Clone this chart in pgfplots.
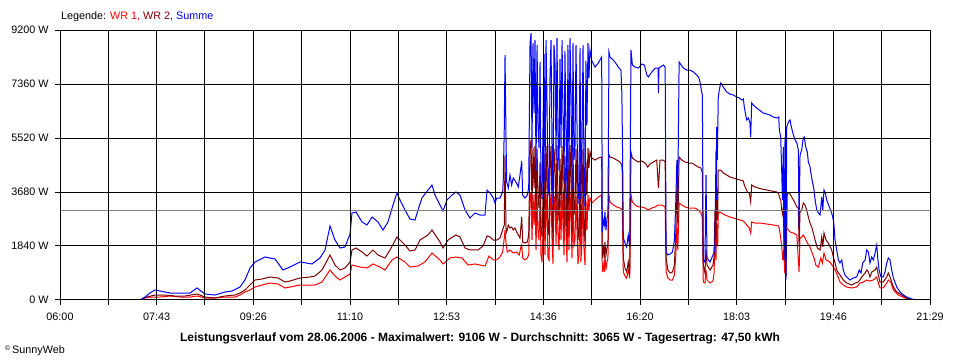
\documentclass[border=0pt]{standalone}
\usepackage{fontspec}
\setmainfont{Liberation Sans}
\usepackage{pgfplots}
\pgfplotsset{compat=1.18}
\definecolor{wrone}{RGB}{255,0,0}
\definecolor{wrtwo}{RGB}{128,0,0}
\definecolor{summe}{RGB}{0,0,255}
\definecolor{avg}{RGB}{128,128,128}
\begin{document}
\begin{tikzpicture}
\useasboundingbox (0,0) rectangle (960bp,360bp);
\fill[white] (0,0) rectangle (960bp,360bp);
\begin{axis}[
  at={(60bp,60bp)}, anchor=south west,
  width=870bp, height=270bp, scale only axis,
  xmin=0, xmax=929, ymin=0, ymax=9200,
  xtick={0,51.61,103.22,154.83,206.44,258.06,309.67,361.28,412.89,464.5,516.11,567.72,619.33,670.94,722.56,774.17,825.78,877.39,929},
  xticklabels={06:00,,07:43,,09:26,,11:10,,12:53,,14:36,,16:20,,18:03,,19:46,,21:29},
  ytick={0,1840,3680,5520,7360,9200},
  yticklabels={0 W,1840 W,3680 W,5520 W,7360 W,9200 W},
  grid=major, major grid style={black, line width=1bp},
  axis line style={black, line width=1bp},
  tick align=outside, major tick length=5bp, tick style={black, line width=1bp},
  xtick pos=bottom, ytick pos=left,
  ticklabel style={font=\fontsize{10.8bp}{12bp}\selectfont},
  xticklabel style={yshift=-4bp},
  yticklabel style={xshift=-3bp},
  axis on top,
]
\addplot[wrone, line width=1bp] table {
85.4 0
90.8 68
96.1 102
106.8 102
117.5 136
128.1 102
138.8 102
146.3 136
154.8 68
165.5 68
176.2 102
186.9 102
192.2 170
197.5 273
202.9 341
208.2 443
215.7 511
224.2 579
232.8 545
240.3 409
245.6 443
256.3 511
272.3 511
279.8 613
288.3 1022
293.6 818
299.0 681
309.7 886
311.8 1192
320.3 1124
327.8 1090
334.2 1227
341.7 1124
347.0 1022
354.5 1363
359.8 1465
368.4 1295
373.7 1124
382.3 1158
389.7 1295
397.2 1601
405.8 1363
409.0 1227
416.4 1431
422.8 1465
429.3 1431
435.7 1192
443.1 1227
453.8 1158
458.1 1499
459.2 1465
462.7 1363
466.3 1363
469.8 1465
472.7 1635
474.4 2112
475.2 2385
476.2 1976
477.6 1635
480.5 1704
484.0 1601
487.7 1635
490.4 1533
491.9 1772
493.0 1874
494.1 1431
496.5 1363
499.0 1431
500.5 1533
501.9 3577
503.0 3645
504.0 2044
505.1 3577
506.2 2555
507.2 3611
508.3 1704
509.4 3543
510.4 2385
511.5 2044
512.6 3407
513.6 1533
514.7 1295
515.8 2385
516.9 3407
517.9 1533
519.0 3611
520.1 2658
521.1 1431
522.2 1363
523.2 3066
524.3 3611
525.4 2044
526.4 1227
527.5 3543
528.6 3407
529.7 1874
530.7 3645
531.8 2215
532.9 1704
533.9 3407
535.0 2044
536.1 3611
537.1 2555
538.2 1533
539.2 3577
540.3 2317
541.4 1295
542.4 3543
543.5 1704
544.6 3645
545.6 2896
546.7 1431
547.8 3577
548.8 1874
549.9 2044
551.0 3543
552.0 2453
553.1 1227
554.2 1533
555.3 3509
556.3 1295
557.4 2112
558.5 3543
559.5 1772
560.6 1192
561.6 3407
562.7 2385
563.8 3577
564.8 3066
565.9 3475
567.0 3407
568.0 3305
571.3 3407
574.8 3509
578.4 3577
579.1 954
580.1 1192
581.2 954
581.9 1533
583.0 1022
584.1 1295
585.1 1431
586.2 3577
587.3 3339
590.8 3237
594.4 3169
598.0 3134
600.4 3066
601.5 954
603.3 818
605.1 750
606.8 1022
608.3 750
609.7 3577
611.2 3339
614.0 3237
617.6 3169
621.2 3169
624.7 3134
628.3 3066
631.9 3134
635.5 3169
639.0 3237
642.6 3237
646.2 3169
647.2 954
649.1 750
651.5 681
654.0 681
656.1 852
657.6 1533
658.7 2555
659.7 1704
661.1 3305
664.0 3237
667.5 3169
671.1 3134
678.1 3134
681.6 3066
684.5 2964
685.9 2794
686.9 613
688.7 579
689.8 1022
690.9 681
694.1 579
697.3 647
698.4 920
699.4 2044
700.5 1363
701.2 2623
702.3 1874
702.9 2964
704.8 2998
710.1 2896
715.5 2828
722.6 2760
726.1 2726
729.7 2692
731.5 2623
733.3 2555
736.1 2453
737.5 2283
738.6 2658
742.1 2623
747.5 2623
754.6 2589
761.7 2555
767.5 2521
768.9 2283
770.7 1806
771.8 1363
772.8 1704
773.9 920
775.0 2385
776.0 2453
779.6 2317
783.1 2283
786.8 2215
789.2 954
790.2 2112
792.0 2146
793.7 2215
795.5 2112
798.0 1942
800.9 1806
802.7 1635
805.2 1431
807.0 1192
809.8 1124
812.4 1431
814.1 1261
815.8 1601
818.0 1363
822.2 1295
825.8 1124
827.6 1022
830.0 852
832.9 613
836.4 511
840.1 443
845.4 409
850.7 443
854.3 579
857.8 613
861.4 681
864.9 647
868.5 681
872.1 784
873.8 579
875.6 409
879.1 409
882.8 579
884.5 681
887.1 613
889.9 341
895.2 170
902.3 68
909.5 0
};
\addplot[wrtwo, line width=1bp] table {
85.4 0
92.9 102
101.4 170
112.1 170
122.8 136
133.5 136
146.3 204
154.8 102
165.5 68
176.2 136
186.9 170
192.2 238
197.5 341
202.9 511
208.2 681
215.7 715
224.2 784
232.8 750
240.3 613
245.6 647
256.3 750
267.0 784
272.3 818
279.8 1022
288.3 1533
293.6 1192
299.0 1022
304.3 1090
309.7 1295
311.8 1704
316.1 1772
322.5 1635
327.8 1499
334.2 1704
339.6 1533
347.0 1431
352.4 1704
359.8 2146
368.4 1874
373.7 1669
379.1 1704
384.4 2044
393.0 2215
397.2 2385
405.8 1976
409.0 1772
414.3 2044
422.8 2215
427.1 2146
432.5 1772
437.8 1704
446.3 1704
451.7 1840
456.0 2180
459.2 2146
462.7 2044
466.3 2044
469.8 2112
472.7 2385
474.4 2555
475.2 4940
476.2 2453
477.0 2317
478.7 2555
480.5 2453
482.3 2487
484.0 2385
485.9 2453
487.7 2317
489.4 2215
491.2 2112
493.0 2828
494.1 1976
496.5 1942
499.0 1976
500.5 2215
501.9 5179
503.0 5450
504.0 3134
505.1 5179
506.2 3816
507.2 5247
508.3 2692
509.4 5145
510.4 3577
511.5 3134
512.6 4700
513.6 2453
514.7 2146
515.8 3577
516.9 4974
517.9 2453
519.0 5247
520.1 3952
521.1 2317
522.2 2215
523.2 4497
524.3 5247
525.4 3134
526.4 2044
527.5 5145
528.6 4650
529.7 2896
530.7 5281
531.8 3373
532.9 2692
533.9 4800
535.0 3134
536.1 5247
537.1 3816
538.2 2453
539.2 4900
540.3 3509
541.4 2146
542.4 5145
543.5 2692
544.6 5281
545.6 4293
546.7 2317
547.8 5179
548.8 2896
549.9 3134
551.0 5145
552.0 3680
553.1 2044
554.2 2453
555.3 5076
556.3 2146
557.4 3237
558.5 5145
559.5 2760
560.6 2010
561.6 4750
562.7 3577
563.8 5179
564.8 4497
565.9 5042
567.0 4900
568.0 4838
571.3 4770
574.8 4838
578.4 4872
579.1 1431
580.1 1874
581.2 1431
581.9 1976
583.0 1533
584.1 1772
585.1 1874
586.2 4940
587.3 4872
590.8 4838
594.4 4770
598.0 4702
599.8 4600
600.4 4361
601.5 1431
603.3 1090
605.1 954
606.8 1295
608.3 852
609.7 5042
611.2 4838
614.0 4770
617.6 4702
621.2 4736
624.7 4668
627.6 4531
630.0 4634
633.6 4702
637.2 4770
639.0 3816
640.7 4770
644.2 4770
646.2 4702
647.2 1431
649.1 1022
651.5 920
654.0 954
656.1 1192
657.6 2317
658.7 3918
659.7 2555
661.1 4872
664.0 4770
667.5 4702
671.1 4668
674.7 4668
678.1 4600
681.6 4531
684.5 4497
685.9 4327
686.9 1192
688.7 920
689.8 1704
690.9 1192
694.1 1022
697.3 1192
698.4 1465
699.4 3066
700.5 2044
701.2 3850
702.3 2726
702.9 4429
705.5 4429
708.3 4327
711.9 4259
715.5 4191
719.0 4157
722.6 4122
726.1 4088
729.7 4054
730.7 3918
732.2 3816
733.9 3680
736.1 3645
737.5 3339
738.6 3918
742.1 3850
745.6 3816
749.2 3782
754.6 3748
759.9 3714
765.3 3680
767.5 3611
768.1 3509
769.6 3407
770.7 3066
771.8 2896
772.4 3169
773.5 1465
774.6 3645
775.2 784
776.6 3645
778.7 3645
780.2 3577
783.1 3407
784.9 3305
786.8 3169
788.4 3134
789.2 1806
790.2 2998
792.0 3066
793.7 3305
795.5 3237
797.3 3066
799.1 2828
800.9 2623
802.7 2487
804.5 2283
806.3 2044
808.7 1772
811.6 1704
813.4 2146
814.5 1806
815.8 2283
818.0 2044
820.4 1942
824.0 1704
825.8 1465
827.6 1261
829.4 1022
831.2 920
832.9 852
836.4 681
840.1 579
845.4 511
849.0 579
852.5 613
856.1 784
859.7 920
861.4 1022
863.2 954
864.9 784
866.8 954
870.3 1022
872.1 1124
873.8 852
875.6 613
879.1 613
882.8 784
884.5 920
886.3 784
889.9 443
893.5 273
898.8 170
904.1 68
911.2 0
};
\addplot[summe, line width=1bp] table {
85.4 0
90.8 102
96.1 238
101.4 341
106.8 307
117.5 238
128.1 238
138.8 238
146.3 409
154.8 204
165.5 170
176.2 273
183.7 307
192.2 443
197.5 681
202.9 1090
208.2 1295
218.9 1465
229.6 1397
238.1 1022
245.6 1124
256.3 1295
269.1 1227
277.6 1431
283.0 1704
288.3 2521
293.6 2044
299.0 1772
304.3 1806
309.7 2249
311.8 2964
316.1 2998
322.5 2658
327.8 2555
333.2 2828
339.6 2658
344.9 2385
350.2 2658
355.6 3237
359.8 3645
363.1 3407
368.4 3066
373.7 2760
379.1 2726
382.3 3066
386.5 3475
393.0 3748
397.2 3918
400.4 3577
405.8 3237
409.0 3032
413.2 3407
418.6 3577
422.8 3680
427.1 3577
432.5 3066
437.8 2794
443.1 2964
448.5 2896
453.8 2896
456.0 3748
459.2 3645
462.7 3475
464.5 3305
466.3 3475
469.8 3475
472.7 3680
473.3 4088
474.4 5860
475.2 8347
476.2 5622
477.0 4020
478.7 3816
480.5 4259
482.3 3918
484.0 4157
486.9 4020
489.4 3850
491.2 4259
493.0 4736
494.1 3577
496.5 3475
499.0 3577
500.5 3816
501.9 8756
503.0 9095
504.0 5178
505.1 8756
506.2 6371
507.2 8858
508.3 4396
509.4 8688
510.4 5962
511.5 5178
512.6 8107
513.6 3986
514.7 3441
515.8 5962
516.9 8381
517.9 3986
519.0 8858
520.1 6610
521.1 3748
522.2 3578
523.2 7563
524.3 8858
525.4 5178
526.4 3271
527.5 8688
528.6 8057
529.7 4770
530.7 8926
531.8 5588
532.9 4396
533.9 8207
535.0 5178
536.1 8858
537.1 6371
538.2 3986
539.2 8477
540.3 5826
541.4 3441
542.4 8688
543.5 4396
544.6 8926
545.6 7189
546.7 3748
547.8 8756
548.8 4770
549.9 5178
551.0 8688
552.0 6133
553.1 3271
554.2 3986
555.3 8585
556.3 3441
557.4 5349
558.5 8688
559.5 4532
560.6 3202
561.6 8157
562.7 5962
563.8 8756
564.8 7563
565.9 8517
567.0 8307
568.0 8143
571.3 7938
574.8 8075
578.4 8279
579.1 2317
580.1 2726
581.2 2555
581.9 2998
583.0 2385
584.1 2794
585.1 2896
586.2 8449
587.3 8279
590.8 8177
593.3 8075
596.1 7938
599.0 7836
600.0 6984
600.8 4770
601.5 2112
603.3 1942
605.1 1806
606.8 2215
608.3 1806
609.7 8518
611.2 8007
614.0 7938
617.6 7904
621.2 8041
624.0 8007
626.6 7666
628.3 7598
631.9 7768
635.5 7904
638.7 7904
639.0 7052
639.6 7904
644.2 8007
646.2 7938
647.2 1635
649.1 1533
651.5 1567
654.0 1635
656.1 2044
657.6 3407
658.7 4770
659.7 3748
661.1 8109
663.2 8007
665.7 7904
669.3 7836
672.8 7836
676.4 7768
680.0 7666
682.3 7564
683.7 7393
684.8 7155
685.9 6984
686.9 1363
688.7 1295
689.8 4259
690.9 1431
694.1 1295
697.3 1533
698.4 1635
699.4 1942
700.5 5111
701.0 3407
701.2 5894
701.9 4770
702.9 6916
704.0 7155
705.5 7393
706.6 7360
708.3 7257
711.9 7087
715.5 7018
719.0 6984
722.6 6916
725.4 6882
728.0 6814
729.7 6848
730.7 6576
732.2 6303
733.3 6133
735.0 6201
736.8 6030
737.5 5553
738.6 6712
740.3 6644
743.9 6541
746.7 6473
751.0 6371
754.6 6337
758.1 6303
761.7 6235
765.3 6201
767.5 6235
768.1 5792
769.6 5553
770.7 4327
771.4 3407
772.4 5213
773.2 1363
774.2 5553
775.2 681
776.0 5894
777.8 6065
779.6 6133
780.3 5996
782.5 5690
784.9 5451
786.8 5349
788.4 5111
789.2 2487
790.2 4940
792.0 5111
793.7 5520
794.8 5553
796.3 5213
798.0 5042
799.1 4702
800.9 4531
802.7 4157
805.2 3748
806.3 3407
808.1 3066
809.8 2964
811.6 2896
813.4 3509
814.5 3066
815.8 3748
817.2 3645
818.7 3407
821.5 3169
824.0 2964
825.8 2726
826.6 2487
827.6 2044
829.4 1704
831.2 1363
832.9 1261
834.8 1363
836.4 1022
838.2 852
840.1 784
843.6 681
847.1 750
850.7 784
853.5 1022
855.3 920
857.1 1261
859.7 1363
861.4 1704
863.2 1635
864.9 1261
866.8 1465
868.5 1363
870.3 1601
872.1 1874
873.2 1431
874.6 1022
876.7 784
879.1 784
880.9 954
882.8 1261
884.5 1431
886.3 1363
888.1 1022
889.9 750
893.5 443
897.0 273
900.6 170
904.1 102
909.5 34
914.8 0
};
\addplot[avg, line width=1bp] coordinates {(0,3065) (929,3065)};
\end{axis}
\node[anchor=base west, inner sep=0pt, font=\fontsize{10.8bp}{12bp}\selectfont] at (61bp,340bp)
  {Legende: \textcolor{wrone}{WR 1,} \textcolor{wrtwo}{WR 2,} \textcolor{summe}{Summe}};
\node[anchor=base, inner sep=0pt, font=\bfseries\fontsize{12bp}{13bp}\selectfont] at (480bp,19bp)
  {Leistungsverlauf vom 28.06.2006 - Maximalwert: 9106 W - Durchschnitt: 3065 W - Tagesertrag: 47,50 kWh};
\node[anchor=base west, inner sep=0pt, font=\fontsize{10.8bp}{12bp}\selectfont] at (5bp,7bp)
  {\raisebox{2.5bp}{\fontsize{7bp}{8bp}\selectfont\textcopyright}\,SunnyWeb};
\end{tikzpicture}
\end{document}
